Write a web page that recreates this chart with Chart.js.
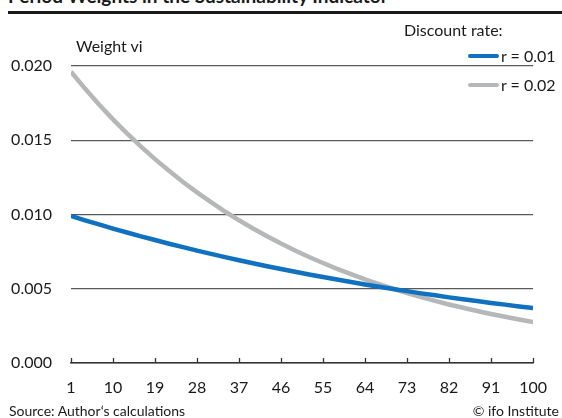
<!DOCTYPE html>
<html>
<head>
<meta charset="utf-8">
<script src="https://cdn.jsdelivr.net/npm/chart.js@4.4.1/dist/chart.umd.min.js"></script>
<style>
  html, body { margin:0; padding:0; background:#fff; }
  body { width:562px; height:418px; position:relative; overflow:hidden; font-family: Lato, "Noto Sans", sans-serif; color:#1a1a1a; }
  #title { position:absolute; left:8px; top:-14px; font-size:19px; font-weight:bold; line-height:1; white-space:nowrap; }
  #rule { position:absolute; left:8px; right:0; top:11px; height:2.5px; background:#1a1a1a; }
  #wrap { position:absolute; left:0; top:0; width:562px; height:418px; }
  #yTitle { position:absolute; left:76px; top:38px; font-size:16px; line-height:1; }
  #legend { position:absolute; left:463px; top:22px; width:99px; height:75px; }
  #legend .head { position:absolute; left:-59px; top:0; font-size:16px; line-height:1; white-space:nowrap; }
  #legend .item { position:absolute; left:5px; font-size:16px; line-height:1; white-space:nowrap; background:#fff; padding-left:0; }
  #legend .sw { display:inline-block; width:31px; height:4px; border-radius:2px; vertical-align:middle; margin-right:2px; position:relative; top:-2px; }
  #src { position:absolute; left:9px; top:404px; font-size:14px; line-height:1; }
  #copy { position:absolute; right:3px; top:404px; font-size:14px; line-height:1; }
</style>
</head>
<body>
<div id="title">Period Weights in the Sustainability Indicator</div>
<div id="rule"></div>
<div id="wrap"><canvas id="chart" width="562" height="418"></canvas></div>
<div id="yTitle">Weight vi</div>
<div id="legend">
  <div class="head">Discount rate:</div>
  <div class="item" style="top:26px"><span class="sw" style="background:#0f71c0"></span>r = 0.01</div>
  <div class="item" style="top:55px"><span class="sw" style="background:#b5b7b8"></span>r = 0.02</div>
</div>
<div id="src">Source: Author‘s calculations</div>
<div id="copy">© ifo Institute</div>

<script>
/* periods sampled every 3 years */
const periods = [1,4,7,10,13,16,19,22,25,28,31,34,37,40,43,46,49,52,55,58,61,64,67,70,73,76,79,82,85,88,91,94,97,100];

const weightsR1 = [0.00990,0.00961,0.00933,0.00905,0.00879,0.00853,0.00828,0.00803,0.00780,0.00757,
  0.00735,0.00713,0.00692,0.00672,0.00652,0.00633,0.00614,0.00596,0.00579,0.00562,
  0.00545,0.00529,0.00513,0.00498,0.00484,0.00469,0.00456,0.00442,0.00429,0.00417,
  0.00404,0.00393,0.00381,0.00370];

const weightsR2 = [0.01961,0.01848,0.01741,0.01641,0.01546,0.01457,0.01373,0.01294,0.01219,0.01149,
  0.01083,0.01020,0.00961,0.00906,0.00854,0.00804,0.00758,0.00714,0.00673,0.00634,
  0.00598,0.00563,0.00531,0.00500,0.00471,0.00444,0.00418,0.00394,0.00372,0.00350,
  0.00330,0.00311,0.00293,0.00276];

const xTicks = [1,10,19,28,37,46,55,64,73,82,91,100];
const yTicks = [0, 0.005, 0.010, 0.015, 0.020];

const FONT = 'Lato, "Noto Sans", sans-serif';

/* little tick marks pointing up from the x axis */
const upTicks = {
  id: 'upTicks',
  afterDatasetsDraw(chart) {
    const ctx = chart.ctx, x = chart.scales.x, bottom = chart.chartArea.bottom;
    ctx.save();
    ctx.strokeStyle = '#333';
    ctx.lineWidth = 1.3;
    x.ticks.forEach(t => {
      const px = Math.round(x.getPixelForValue(t.value)) + 0.5;
      ctx.beginPath();
      ctx.moveTo(px, bottom);
      ctx.lineTo(px, bottom - 5);
      ctx.stroke();
    });
    ctx.restore();
  }
};

new Chart(document.getElementById('chart'), {
  type: 'line',
  data: {
    datasets: [
      { label: 'r = 0.01', data: periods.map((p, i) => ({x: p, y: weightsR1[i]})),
        borderColor: '#0f71c0', borderWidth: 4.5, pointRadius: 0, tension: 0 },
      { label: 'r = 0.02', data: periods.map((p, i) => ({x: p, y: weightsR2[i]})),
        borderColor: '#b5b7b8', borderWidth: 4.5, pointRadius: 0, tension: 0 }
    ]
  },
  options: {
    responsive: false,
    animation: false,
    layout: { padding: { top: 66, right: 23, left: 0, bottom: 0 } },
    plugins: { legend: { display: false }, tooltip: { enabled: false } },
    scales: {
      x: {
        type: 'linear', min: 1, max: 100,
        afterBuildTicks: s => { s.ticks = xTicks.map(v => ({value: v})); },
        afterFit: s => { s.height = 55; },
        grid: { display: false, drawTicks: false },
        border: { display: true, color: '#333', width: 1.5 },
        ticks: { color: '#1a1a1a', font: { family: FONT, size: 16 }, padding: 15, maxRotation: 0,
                 callback: v => String(v) }
      },
      y: {
        min: 0, max: 0.02,
        afterBuildTicks: s => { s.ticks = yTicks.map(v => ({value: v})); },
        afterFit: s => { s.width = 71; },
        grid: { color: '#5a5a5a', lineWidth: 1.2, drawTicks: false },
        border: { display: false },
        ticks: { color: '#1a1a1a', font: { family: FONT, size: 16 }, padding: 19,
                 callback: v => v.toFixed(3) }
      }
    }
  },
  plugins: [upTicks]
});
</script>
</body>
</html>
